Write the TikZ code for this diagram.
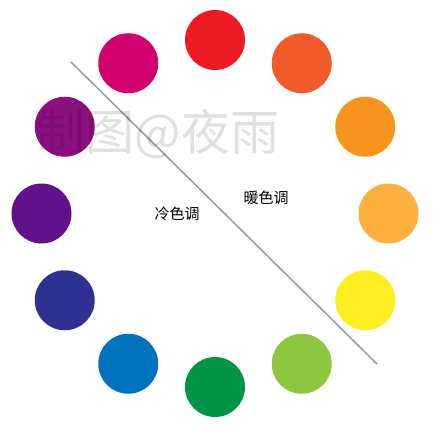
\documentclass[tikz,border=0pt]{standalone}
\usepackage{fontspec}
\usepackage{xcolor}
\newfontfamily\cjk{Noto Sans CJK SC}

\definecolor{wheelA}{HTML}{ED1C24}
\definecolor{wheelB}{HTML}{F15A29}
\definecolor{wheelC}{HTML}{F7941D}
\definecolor{wheelD}{HTML}{FBB040}
\definecolor{wheelE}{HTML}{FFEE22}
\definecolor{wheelF}{HTML}{8DC63F}
\definecolor{wheelG}{HTML}{009444}
\definecolor{wheelH}{HTML}{0071BC}
\definecolor{wheelI}{HTML}{2E3192}
\definecolor{wheelJ}{HTML}{611189}
\definecolor{wheelK}{HTML}{8C0F80}
\definecolor{wheelL}{HTML}{D1006F}

\begin{document}
\begin{tikzpicture}[x=1pt, y=-1pt,
	dot/.style={circle, inner sep=0pt, minimum size=60pt},
	tone/.style={font=\cjk\fontsize{15}{15}\selectfont}]
	
		\newcommand{\cx}{215}
		\newcommand{\cy}{213.5}
		\newcommand{\Rad}{173.5}
		\useasboundingbox[fill=white] (0,0) rectangle (435,430);
		
		% colour wheel, clockwise from the top
		\foreach \i/\col in {0/wheelA, 1/wheelB, 2/wheelC, 3/wheelD, 4/wheelE, 5/wheelF, 6/wheelG, 7/wheelH, 8/wheelI, 9/wheelJ, 10/wheelK, 11/wheelL}
			\node[dot, fill=\col] (c\i) at ({\cx+\Rad*sin(30*\i)}, {\cy-\Rad*cos(30*\i)}) {};
		
		\coordinate (splitA) at (71,62);
		\coordinate (splitB) at (377,364);
		\draw[black!40, line width=1.5pt] (splitA) -- (splitB);
		
		\node[tone] (cold) at (177,214) {冷色调};
		\node[tone] (warm) at (266,198) {暖色调};
		
		%\node at (158,134) {mark};
		\node[font=\cjk\fontsize{49}{49}\selectfont, text=black, text opacity=0.12] (mark) at (158,134) {制图@夜雨};
	\end{tikzpicture}
\end{document}
